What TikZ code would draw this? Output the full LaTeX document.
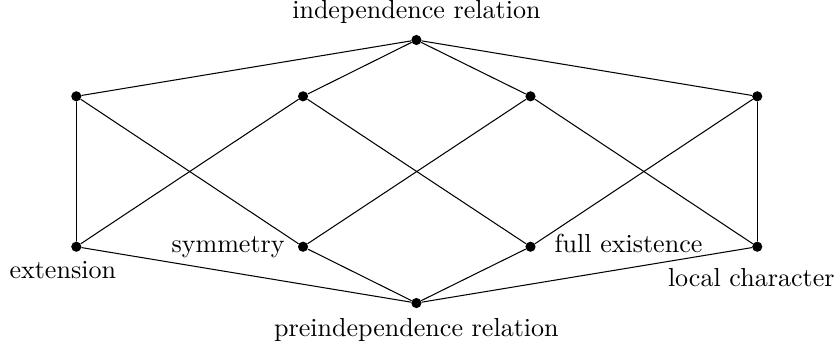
\documentclass[tikz,border=0pt]{standalone}
\usetikzlibrary{positioning}

\begin{document}
\begin{tikzpicture}[line cap=round, line join=round,
  dot/.style={circle, fill=black, inner sep=0pt, minimum size=3.9pt},
  lbl/.style={inner sep=3.33pt}]

% ----------------------------
% PARAMETERS
% ----------------------------
\def\yT{-0.54}    % top level
\def\yU{-1.30}    % upper row
\def\yL{-3.33}    % lower row
\def\yB{-4.09}    % bottom level
\def\xM{5.62}     % middle axis

\useasboundingbox (0,0) rectangle (11.31,-4.74);

% ----------------------------
% POINTS
% ----------------------------
\node[dot] (top) at (\xM,\yT) {};
\node[dot] (bot) at (\xM,\yB) {};

\node[dot] (u1) at (1.03,\yU) {};
\node[dot] (u2) at (4.09,\yU) {};
\node[dot] (u3) at (7.16,\yU) {};
\node[dot] (u4) at (10.22,\yU) {};

\node[dot] (l1) at (1.03,\yL) {};
\node[dot] (l2) at (4.09,\yL) {};
\node[dot] (l3) at (7.16,\yL) {};
\node[dot] (l4) at (10.22,\yL) {};

% ----------------------------
% EDGES
% ----------------------------
\foreach \u in {u1,u2,u3,u4} \draw (top) -- (\u);
\foreach \l in {l1,l2,l3,l4} \draw (bot) -- (\l);

\draw (u1) -- (l1);
\draw (u1) -- (l2);
\draw (u2) -- (l1);
\draw (u2) -- (l3);
\draw (u3) -- (l2);
\draw (u3) -- (l4);
\draw (u4) -- (l3);
\draw (u4) -- (l4);

% ----------------------------
% LABELS
% ----------------------------
\node[lbl, above=0.7pt of top] (ltop) {independence relation};
\node[lbl, below=0.3pt of bot] (lbot) {preindependence relation};

\node[lbl, below=0pt of l1, xshift=-5.2pt] (lext) {extension};
\node[lbl, left=1.4pt of l2] (lsym) {symmetry};
\node[lbl, right=3.6pt of l3, yshift=1.2pt] (lfull) {full existence};
\node[lbl, below=2.8pt of l4, xshift=-2.3pt] (lloc) {local character};

\end{tikzpicture}
\end{document}
